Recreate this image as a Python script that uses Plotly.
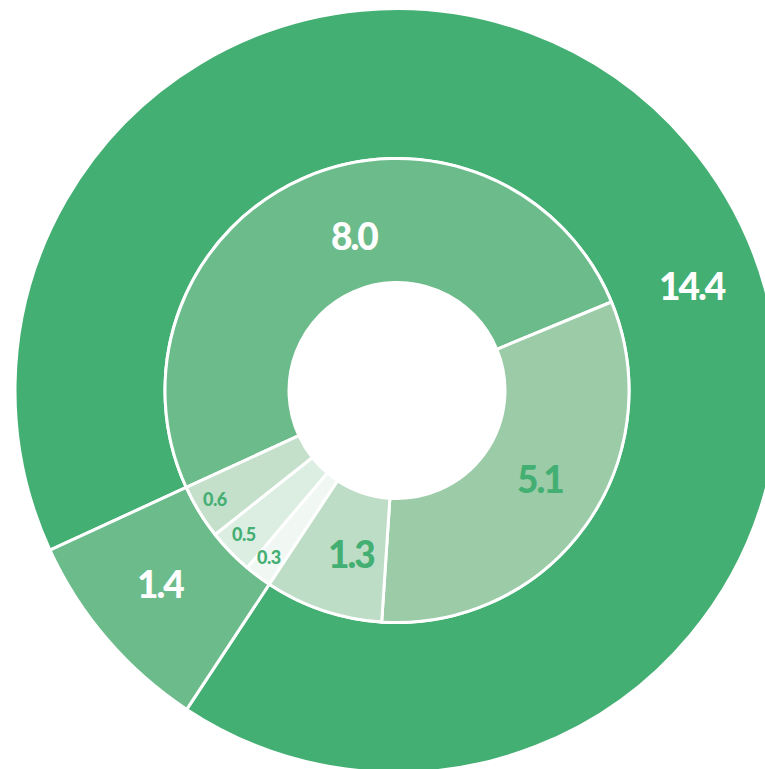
import math
import plotly.graph_objects as go

# ---- data ----
outer_labels = ["A", "B"]
outer_values = [14.4, 1.4]
inner_labels = ["A1", "A2", "A3", "B1", "B2", "B3"]
inner_values = [8.0, 5.1, 1.3, 0.3, 0.5, 0.6]

# ---- styles ----
outer_colors = ["#44AF73", "#6CBB8B"]
inner_colors = ["#6CBB8B", "#9BCBA7", "#BEDDC6", "#F1F8F3", "#DCEDE1", "#C4E0CB"]
GREEN = "#44AF73"
outer_text_colors = ["white", "white"]
inner_text_colors = ["white", GREEN, GREEN, GREEN, GREEN, GREEN]
outer_text_sizes = [37, 37]
inner_text_sizes = [37, 37, 37, 18, 18, 18]
# label placement (polar: angle in degrees counter-clockwise from 3 o'clock, radius in px)
outer_label_pos = [(19.5, 314), (219.2, 305)]
inner_label_pos = [(105.3, 161), (-31.7, 168), (254.2, 169), (232.6, 210), (223.2, 210), (210.8, 212)]

W, H = 800, 790
CX, CY = 397, 390.5
R_OUT, R_MID, R_HOLE = 382, 232, 108
ROT = -114.7


def dom(r):
    return dict(
        x=[(CX - r) / W, (CX + r) / W],
        y=[(H - CY - r) / H, (H - CY + r) / H],
    )


font_family = "Lato, 'Open Sans', sans-serif"

fig = go.Figure()
fig.add_trace(go.Pie(
    labels=outer_labels, values=outer_values, sort=False, direction="clockwise",
    rotation=ROT, hole=R_MID / R_OUT, domain=dom(R_OUT),
    marker=dict(colors=outer_colors, line=dict(color="white", width=3)),
    textinfo="none", hoverinfo="none", showlegend=False,
))
fig.add_trace(go.Pie(
    labels=inner_labels, values=inner_values, sort=False, direction="clockwise",
    rotation=ROT, hole=R_HOLE / R_MID, domain=dom(R_MID),
    marker=dict(colors=inner_colors, line=dict(color="white", width=3)),
    textinfo="none", hoverinfo="none", showlegend=False,
))

annotations = []
for vals, pos, cols, sizes in [
    (outer_values, outer_label_pos, outer_text_colors, outer_text_sizes),
    (inner_values, inner_label_pos, inner_text_colors, inner_text_sizes),
]:
    for v, (ang, r), c, s in zip(vals, pos, cols, sizes):
        px = CX + r * math.cos(math.radians(ang))
        py = CY - r * math.sin(math.radians(ang))
        ls = -2 if s > 30 else -0.5
        annotations.append(dict(
            x=px / W, y=1 - py / H, xref="paper", yref="paper",
            text=f'<span style="letter-spacing:{ls}px">{v:.1f}</span>',
            showarrow=False, xanchor="center", yanchor="middle",
            font=dict(color=c, size=s, family=font_family, weight=900),
        ))

fig.update_layout(
    width=W, height=H, margin=dict(l=0, r=0, t=0, b=0),
    paper_bgcolor="white", plot_bgcolor="white", showlegend=False,
    annotations=annotations,
)
fig.write_html(
    "out.html",
    config={"displayModeBar": False},
    post_script="document.body.style.margin='0';document.body.style.overflow='hidden';document.documentElement.style.overflow='hidden';",
)
